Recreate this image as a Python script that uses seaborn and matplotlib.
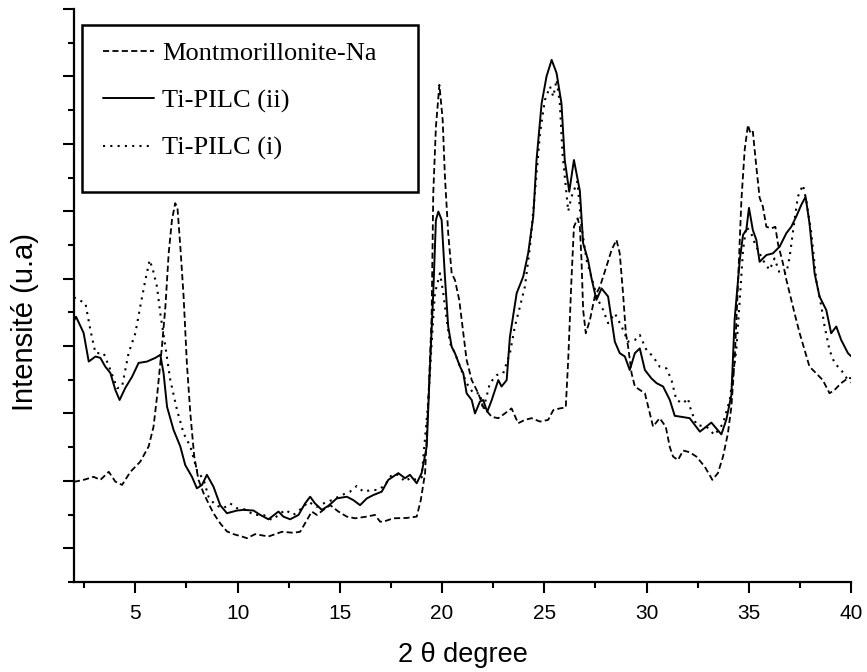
import numpy as np
import pandas as pd
import matplotlib
matplotlib.use("Agg")
import matplotlib.pyplot as plt
import matplotlib.patches as mpatches
import seaborn as sns

# ---------------- data ----------------
x_ii = [2.0, 2.1, 2.47, 2.72, 3.05, 3.29, 3.53, 3.78, 4.02, 4.23, 4.51, 4.84, 5.16, 5.57, 5.98, 6.22, 6.38, 6.55,
        6.87, 7.2, 7.44, 7.77, 8.01, 8.26, 8.5, 8.82, 9.15, 9.48, 9.97, 10.29, 10.78, 11.11, 11.51, 12.0, 12.24,
        12.57, 12.98, 13.3, 13.55, 13.79, 14.12, 14.44, 14.85, 15.34, 15.66, 15.99, 16.32, 16.64, 17.05, 17.37,
        17.86, 18.19, 18.43, 18.76, 19.0, 19.25, 19.41, 19.57, 19.7, 19.82, 19.98, 20.14, 20.3, 20.47, 20.63,
        20.88, 21.04, 21.2, 21.45, 21.61, 21.85, 22.01, 22.21, 22.43, 22.75, 22.91, 23.16, 23.32, 23.65, 23.97,
        24.21, 24.46, 24.62, 24.87, 25.11, 25.36, 25.6, 25.84, 26.0, 26.22, 26.45, 26.74, 26.9, 27.14, 27.31,
        27.55, 27.8, 28.12, 28.29, 28.45, 28.69, 28.94, 29.18, 29.43, 29.67, 29.92, 30.24, 30.49, 30.81, 31.14,
        31.38, 31.71, 32.11, 32.61, 33.17, 33.66, 33.9, 34.15, 34.31, 34.56, 34.72, 34.88, 35.01, 35.2, 35.37,
        35.53, 35.86, 36.18, 36.51, 36.84, 37.08, 37.32, 37.57, 37.78, 37.97, 38.22, 38.46, 38.79, 39.03, 39.28,
        39.52, 39.85, 40.0]
y_ii = [7.75, 7.87, 7.39, 6.54, 6.69, 6.65, 6.39, 6.2, 5.7, 5.4, 5.76, 6.09, 6.5, 6.54, 6.65, 6.74, 6.2, 5.2,
        4.51, 4.02, 3.47, 3.12, 2.78, 2.88, 3.18, 2.83, 2.28, 2.04, 2.12, 2.14, 2.12, 1.99, 1.86, 2.09, 1.94,
        1.86, 1.99, 2.33, 2.53, 2.33, 2.14, 2.26, 2.48, 2.53, 2.43, 2.28, 2.48, 2.58, 2.68, 3.03,
        3.23, 3.08, 3.18, 2.93, 3.23, 4.02, 6.39, 8.57, 10.74, 10.99, 10.74, 9.06, 7.58, 6.98, 6.79,
        6.39, 6.19, 5.6, 5.4, 5.0, 5.35, 5.4, 5.05, 5.4, 5.99, 5.8, 5.99, 7.28, 8.57, 9.06,
        9.75, 10.84, 12.52, 14.2, 15.0, 15.49, 15.1, 14.2, 12.52, 11.58, 12.52, 11.6, 10.05, 9.55, 9.01,
        8.37, 8.71, 8.47, 7.77, 7.13, 6.79, 6.69, 6.29, 6.79, 6.93, 6.29, 6.04, 5.9, 5.8, 5.4,
        4.93, 4.9, 4.86, 4.46, 4.73, 4.38, 4.81, 5.55, 7.8, 9.55, 10.3, 10.44, 11.1, 10.44, 10.15,
        9.5, 9.7, 9.75, 9.95, 10.35, 10.54, 10.84, 11.19, 11.43, 10.64, 9.16, 8.47, 8.07, 7.38, 7.58,
        7.18, 6.79, 6.7]

x_i = [2.0, 2.07, 2.56, 2.8, 3.05, 3.45, 3.78, 4.11, 4.35, 4.67, 5.0, 5.24, 5.49, 5.7, 5.86, 6.06, 6.22, 6.47,
       6.71, 7.04, 7.36, 7.69, 8.01, 8.34, 8.58, 8.91, 9.31, 9.64, 9.97, 10.4, 10.78, 11.27, 11.68, 12.33, 12.73,
       13.14, 13.47, 13.88, 14.2, 14.61, 15.1, 15.5, 15.83, 16.15, 16.56, 16.89, 17.21, 17.54, 17.86, 18.19,
       18.43, 18.6, 19.0, 19.33, 19.49, 19.65, 19.9, 20.06, 20.23, 20.39, 20.63, 20.88, 21.2, 21.53, 21.85,
       22.01, 22.34, 22.67, 22.99, 23.32, 23.56, 23.81, 24.05, 24.3, 24.54, 24.79, 25.03, 25.28, 25.44, 25.6,
       25.76, 25.89, 26.09, 26.17, 26.33, 26.62, 26.82, 27.07, 27.39, 27.63, 27.88, 28.12, 28.45, 28.78, 29.1,
       29.43, 29.67, 30.0, 30.32, 30.64, 30.97, 31.22, 31.46, 31.79, 32.03, 32.12, 32.44, 32.93, 33.33, 33.74,
       34.07, 34.39, 34.56, 34.72, 34.88, 35.12, 35.29, 35.53, 35.78, 36.02, 36.26, 36.51, 36.84, 37.0, 37.24,
       37.4, 37.65, 37.81, 38.06, 38.3, 38.55, 38.71, 38.95, 39.2, 39.52, 39.85, 40.0]
y_i = [8.45, 8.42, 8.27, 7.48, 6.79, 6.79, 6.29, 5.75, 5.8, 6.79, 7.38, 8.17, 8.96, 9.55, 9.26, 8.76, 7.97, 6.98,
       5.99, 5.1, 4.41, 4.02, 3.32, 3.03, 2.53, 2.28, 2.19, 2.33, 2.19, 2.15, 1.99, 1.99, 1.84, 2.14, 1.99,
       2.19, 2.38, 2.23, 2.33, 2.43, 2.58, 2.68, 2.85, 2.68, 2.73, 2.73, 2.88, 3.18, 3.18, 2.98,
       3.08, 3.03, 3.1, 5.4, 7.08, 8.57, 9.16, 8.57, 7.77, 7.08, 6.79, 6.39, 5.9, 5.6, 5.6,
       5.1, 5.9, 6.14, 6.19, 6.79, 7.58, 8.17, 8.76, 9.95, 11.53, 13.31, 14.3, 14.7, 14.4, 14.9,
       14.2, 12.72, 11.5, 11.0, 11.43, 11.88, 10.54, 9.55, 8.86, 8.37, 8.07, 7.68, 7.97, 7.58, 7.13,
       7.18, 7.33, 6.88, 6.69, 6.39, 6.34, 6.0, 5.4, 5.3, 5.45, 5.2, 4.66, 4.61, 4.36, 4.7,
       5.4, 6.88, 8.37, 9.85, 10.54, 10.35, 10.05, 9.75, 9.46, 9.26, 9.6, 9.16, 9.16, 9.65, 10.74,
       11.43, 11.78, 11.33, 10.35, 8.96, 8.17, 7.58, 6.88, 6.49, 6.29, 5.99, 5.92]

x_na = [2.0, 2.07, 2.47, 2.96, 3.29, 3.7, 4.02, 4.35, 4.76, 5.24, 5.65, 5.89, 6.06, 6.3, 6.47, 6.63, 6.79, 6.95,
        7.06, 7.2, 7.36, 7.52, 7.69, 7.88, 8.09, 8.34, 8.58, 8.82, 9.15, 9.48, 9.8, 10.21, 10.46, 10.86, 11.51,
        12.17, 12.73, 13.06, 13.3, 13.63, 13.88, 14.2, 14.53, 14.93, 15.34, 15.75, 16.32, 16.72, 16.97, 17.13,
        17.62, 18.27, 18.76, 18.96, 19.17, 19.33, 19.49, 19.57, 19.7, 19.87, 20.03, 20.14, 20.3, 20.47, 20.63,
        20.84, 21.04, 21.2, 21.45, 21.77, 22.01, 22.43, 22.75, 23.07, 23.4, 23.72, 24.05, 24.38, 24.79, 25.19,
        25.44, 25.76, 26.05, 26.17, 26.33, 26.45, 26.63, 26.74, 26.82, 26.9, 27.03, 27.23, 27.47, 27.72, 28.04,
        28.29, 28.53, 28.69, 28.85, 28.99, 29.1, 29.27, 29.43, 29.67, 29.92, 30.08, 30.32, 30.64, 30.94, 31.14,
        31.3, 31.54, 31.79, 32.11, 32.44, 32.85, 33.22, 33.49, 33.74, 33.98, 34.15, 34.31, 34.47, 34.64, 34.8,
        34.96, 35.09, 35.2, 35.37, 35.53, 35.69, 35.86, 36.1, 36.3, 36.43, 36.67, 36.84, 37.0, 37.24, 37.49,
        37.73, 37.97, 38.3, 38.62, 38.95, 39.2, 39.52, 39.85, 40.0]
y_na = [3.0, 2.98, 3.03, 3.12, 3.03, 3.27, 2.98, 2.88, 3.27, 3.57, 4.02, 4.61, 5.5, 6.98, 8.17, 9.75, 10.74, 11.24,
        11.1, 9.95, 8.47, 6.49, 5.0, 3.72, 3.03, 2.63, 2.33, 2.04, 1.74, 1.5, 1.42, 1.35, 1.3, 1.42, 1.35,
        1.49, 1.46, 1.49, 1.74, 2.09, 1.99, 2.14, 2.28, 2.09, 1.94, 1.89, 1.94, 1.99, 1.79, 1.79,
        1.89, 1.9, 1.94, 2.43, 3.23, 5.4, 7.87, 11.53, 13.51, 14.75, 13.71, 12.03, 10.35, 9.16, 8.96,
        8.37, 7.38, 6.59, 5.99, 5.6, 5.2, 4.9, 4.86, 5.0, 5.15, 4.71, 4.81, 4.86, 4.76, 4.81,
        5.1, 5.15, 5.18, 6.59, 9.0, 10.54, 10.79, 10.54, 9.55, 8.07, 7.38, 7.77, 8.47, 8.76, 9.36,
        9.85, 10.15, 9.75, 8.57, 7.38, 6.98, 6.19, 5.8, 5.7, 5.6, 5.2, 4.61, 4.86, 4.61, 4.0,
        3.72, 3.62, 3.9, 3.85, 3.72, 3.42, 3.03, 3.23, 3.72, 4.41, 5.2, 6.6, 8.8, 11.33, 12.82,
        13.56, 13.3, 13.36, 12.32, 11.4, 11.14, 10.54, 10.49, 10.54, 10.03, 9.46, 8.96, 8.57, 7.97, 7.38,
        6.88, 6.39, 6.19, 5.99, 5.6, 5.7, 5.9, 6.05, 6.05]

labels = ["Montmorillonite-Na", "Ti-PILC (ii)", "Ti-PILC (i)"]
x_major = [5, 10, 15, 20, 25, 30, 35, 40]

# ---------------- style ----------------
sns.set_theme(style="ticks")
plt.rcParams["font.family"] = ["Liberation Sans", "DejaVu Sans"]
plt.rcParams["axes.linewidth"] = 1.6

fig = plt.figure(figsize=(8.67, 6.72), dpi=100)
ax = fig.add_axes([74 / 867, 1 - 582 / 672, 777 / 867, 573 / 672])

df_na = pd.DataFrame({"x": x_na, "y": y_na})
df_ii = pd.DataFrame({"x": x_ii, "y": y_ii})
df_i = pd.DataFrame({"x": x_i, "y": y_i})

sns.lineplot(data=df_na, x="x", y="y", ax=ax, color="black", lw=1.3,
             linestyle=(0, (3.4, 1.8)), estimator=None, sort=False)
sns.lineplot(data=df_ii, x="x", y="y", ax=ax, color="black", lw=1.4,
             estimator=None, sort=False)
sns.lineplot(data=df_i, x="x", y="y", ax=ax, color="black", lw=1.5,
             linestyle=(0, (1, 2.5)), estimator=None, sort=False)

ax.set_xlim(2, 40)
ax.set_ylim(0, 17)
ax.set_xticks(x_major)
ax.set_xticklabels([str(v) for v in x_major])
ax.set_xticks(np.arange(2.5, 40, 5), minor=True)
ax.set_yticks(np.arange(1, 18, 2))
ax.set_yticks(np.arange(0, 17, 2), minor=True)
ax.tick_params(axis="y", which="both", labelleft=False)
ax.tick_params(which="major", length=8, width=1.5, direction="out", color="black")
ax.tick_params(which="minor", length=4.5, width=1.5, direction="out", color="black")
ax.tick_params(axis="x", which="major", labelsize=15, pad=8, labelcolor="black")
for s in ["top", "right"]:
    ax.spines[s].set_visible(False)
for s in ["left", "bottom"]:
    ax.spines[s].set_linewidth(1.6)
    ax.spines[s].set_color("black")

ax.set_xlabel("2 \u03b8 degree", fontsize=19.5, color="black")
ax.xaxis.label.set_va("center")
ax.xaxis.set_label_coords(0.5, (582 - 655) / 573)
ax.set_ylabel("Intensité (u.a)", fontsize=21, color="black")
ax.yaxis.label.set_va("center")
ax.yaxis.set_label_coords((25 - 74) / 777, (582 - 322) / 573)

# legend
handles = [ax.lines[0], ax.lines[1], ax.lines[2]]
leg = ax.legend(handles, labels, loc="upper left",
                bbox_to_anchor=((103 - 74) / 777, (582 - 42) / 573),
                frameon=False, borderpad=0, borderaxespad=0,
                handlelength=1.93, handletextpad=0.3, labelspacing=0.89,
                prop={"family": "Liberation Serif", "size": 19})
for t in leg.get_texts():
    t.set_color("black")
rect = mpatches.Rectangle(((82 - 74) / 777, (582 - 192) / 573), (418 - 82) / 777, (192 - 25) / 573,
                          transform=ax.transAxes, fill=False, lw=1.8, ec="black", clip_on=False, zorder=5)
ax.add_patch(rect)

fig.savefig("out.png", dpi=100)
